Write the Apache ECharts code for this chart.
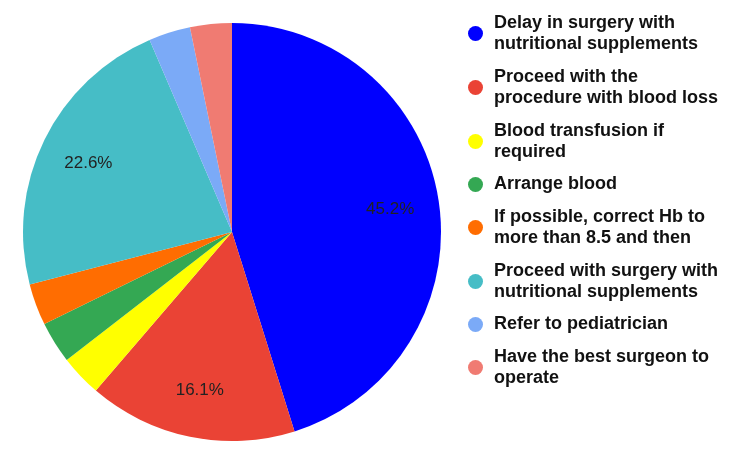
<!DOCTYPE html>
<html>
<head>
<meta charset="utf-8">
<script src="https://cdn.jsdelivr.net/npm/echarts@6/dist/echarts.min.js"></script>
<style>html,body{margin:0;padding:0;background:#fff}#c{width:750px;height:464px}</style>
</head>
<body>
<div id="c"></div>
<script>
var categories = [
  "Delay in surgery with nutritional supplements",
  "Proceed with the procedure with blood loss",
  "Blood transfusion if required",
  "Arrange blood",
  "If possible, correct Hb to more than 8.5 and then",
  "Proceed with surgery with nutritional supplements",
  "Refer to pediatrician",
  "Have the best surgeon to operate"
];
var counts = [14, 5, 1, 1, 1, 7, 1, 1];
var colors = ["#0000ff", "#ea4335", "#ffff00", "#34a853", "#ff6d01", "#46bdc6", "#7baaf7", "#f07b72"];
var twoLine = [true, true, true, false, true, true, false, true];

var total = counts.reduce(function (a, b) { return a + b; }, 0);
var chart = echarts.init(document.getElementById('c'), null, {renderer: 'canvas'});
var pieData = categories.map(function (n, i) { return {name: n, value: counts[i], itemStyle: {color: colors[i]}}; });
var labelData = categories.map(function (n, i) { return {name: n, value: counts[i]}; });
var legendData = categories.map(function (n, i) {
  return {
    name: n,
    textStyle: {padding: twoLine[i] ? [21, 0, 0, 6] : [10, 0, 10, 6]}
  };
});

chart.setOption({
  animation: false,
  backgroundColor: '#ffffff',
  legend: {
    orient: 'vertical',
    left: 468,
    top: 2,
    padding: 0,
    itemGap: -9,
    icon: 'circle',
    itemWidth: 15,
    itemHeight: 15,
    data: legendData,
    textStyle: {
      fontFamily: 'Liberation Sans, Arial, sans-serif',
      fontSize: 18,
      fontWeight: 'bold',
      color: '#111111',
      lineHeight: 21,
      width: 234,
      overflow: 'break',
      backgroundColor: 'rgba(255,255,255,0)'
    }
  },
  series: [
    {
      type: 'pie',
      center: [232, 232],
      radius: [0, 209],
      startAngle: 90,
      clockwise: true,
      data: pieData,
      label: {show: false},
      labelLine: {show: false},
      itemStyle: {borderWidth: 0}
    },
    {
      type: 'pie',
      center: [232, 234],
      radius: [116, 198],
      startAngle: 90,
      clockwise: true,
      silent: true,
      legendHoverLink: false,
      minShowLabelAngle: 20,
      data: labelData,
      itemStyle: {color: 'rgba(0,0,0,0)', borderWidth: 0},
      label: {
        show: true,
        position: 'inside',
        formatter: function (p) { return (p.value / total * 100).toFixed(1) + '%'; },
        fontFamily: 'Liberation Sans, Arial, sans-serif',
        fontSize: 17,
        color: '#222222'
      },
      labelLine: {show: false}
    }
  ]
});
</script>
</body>
</html>
